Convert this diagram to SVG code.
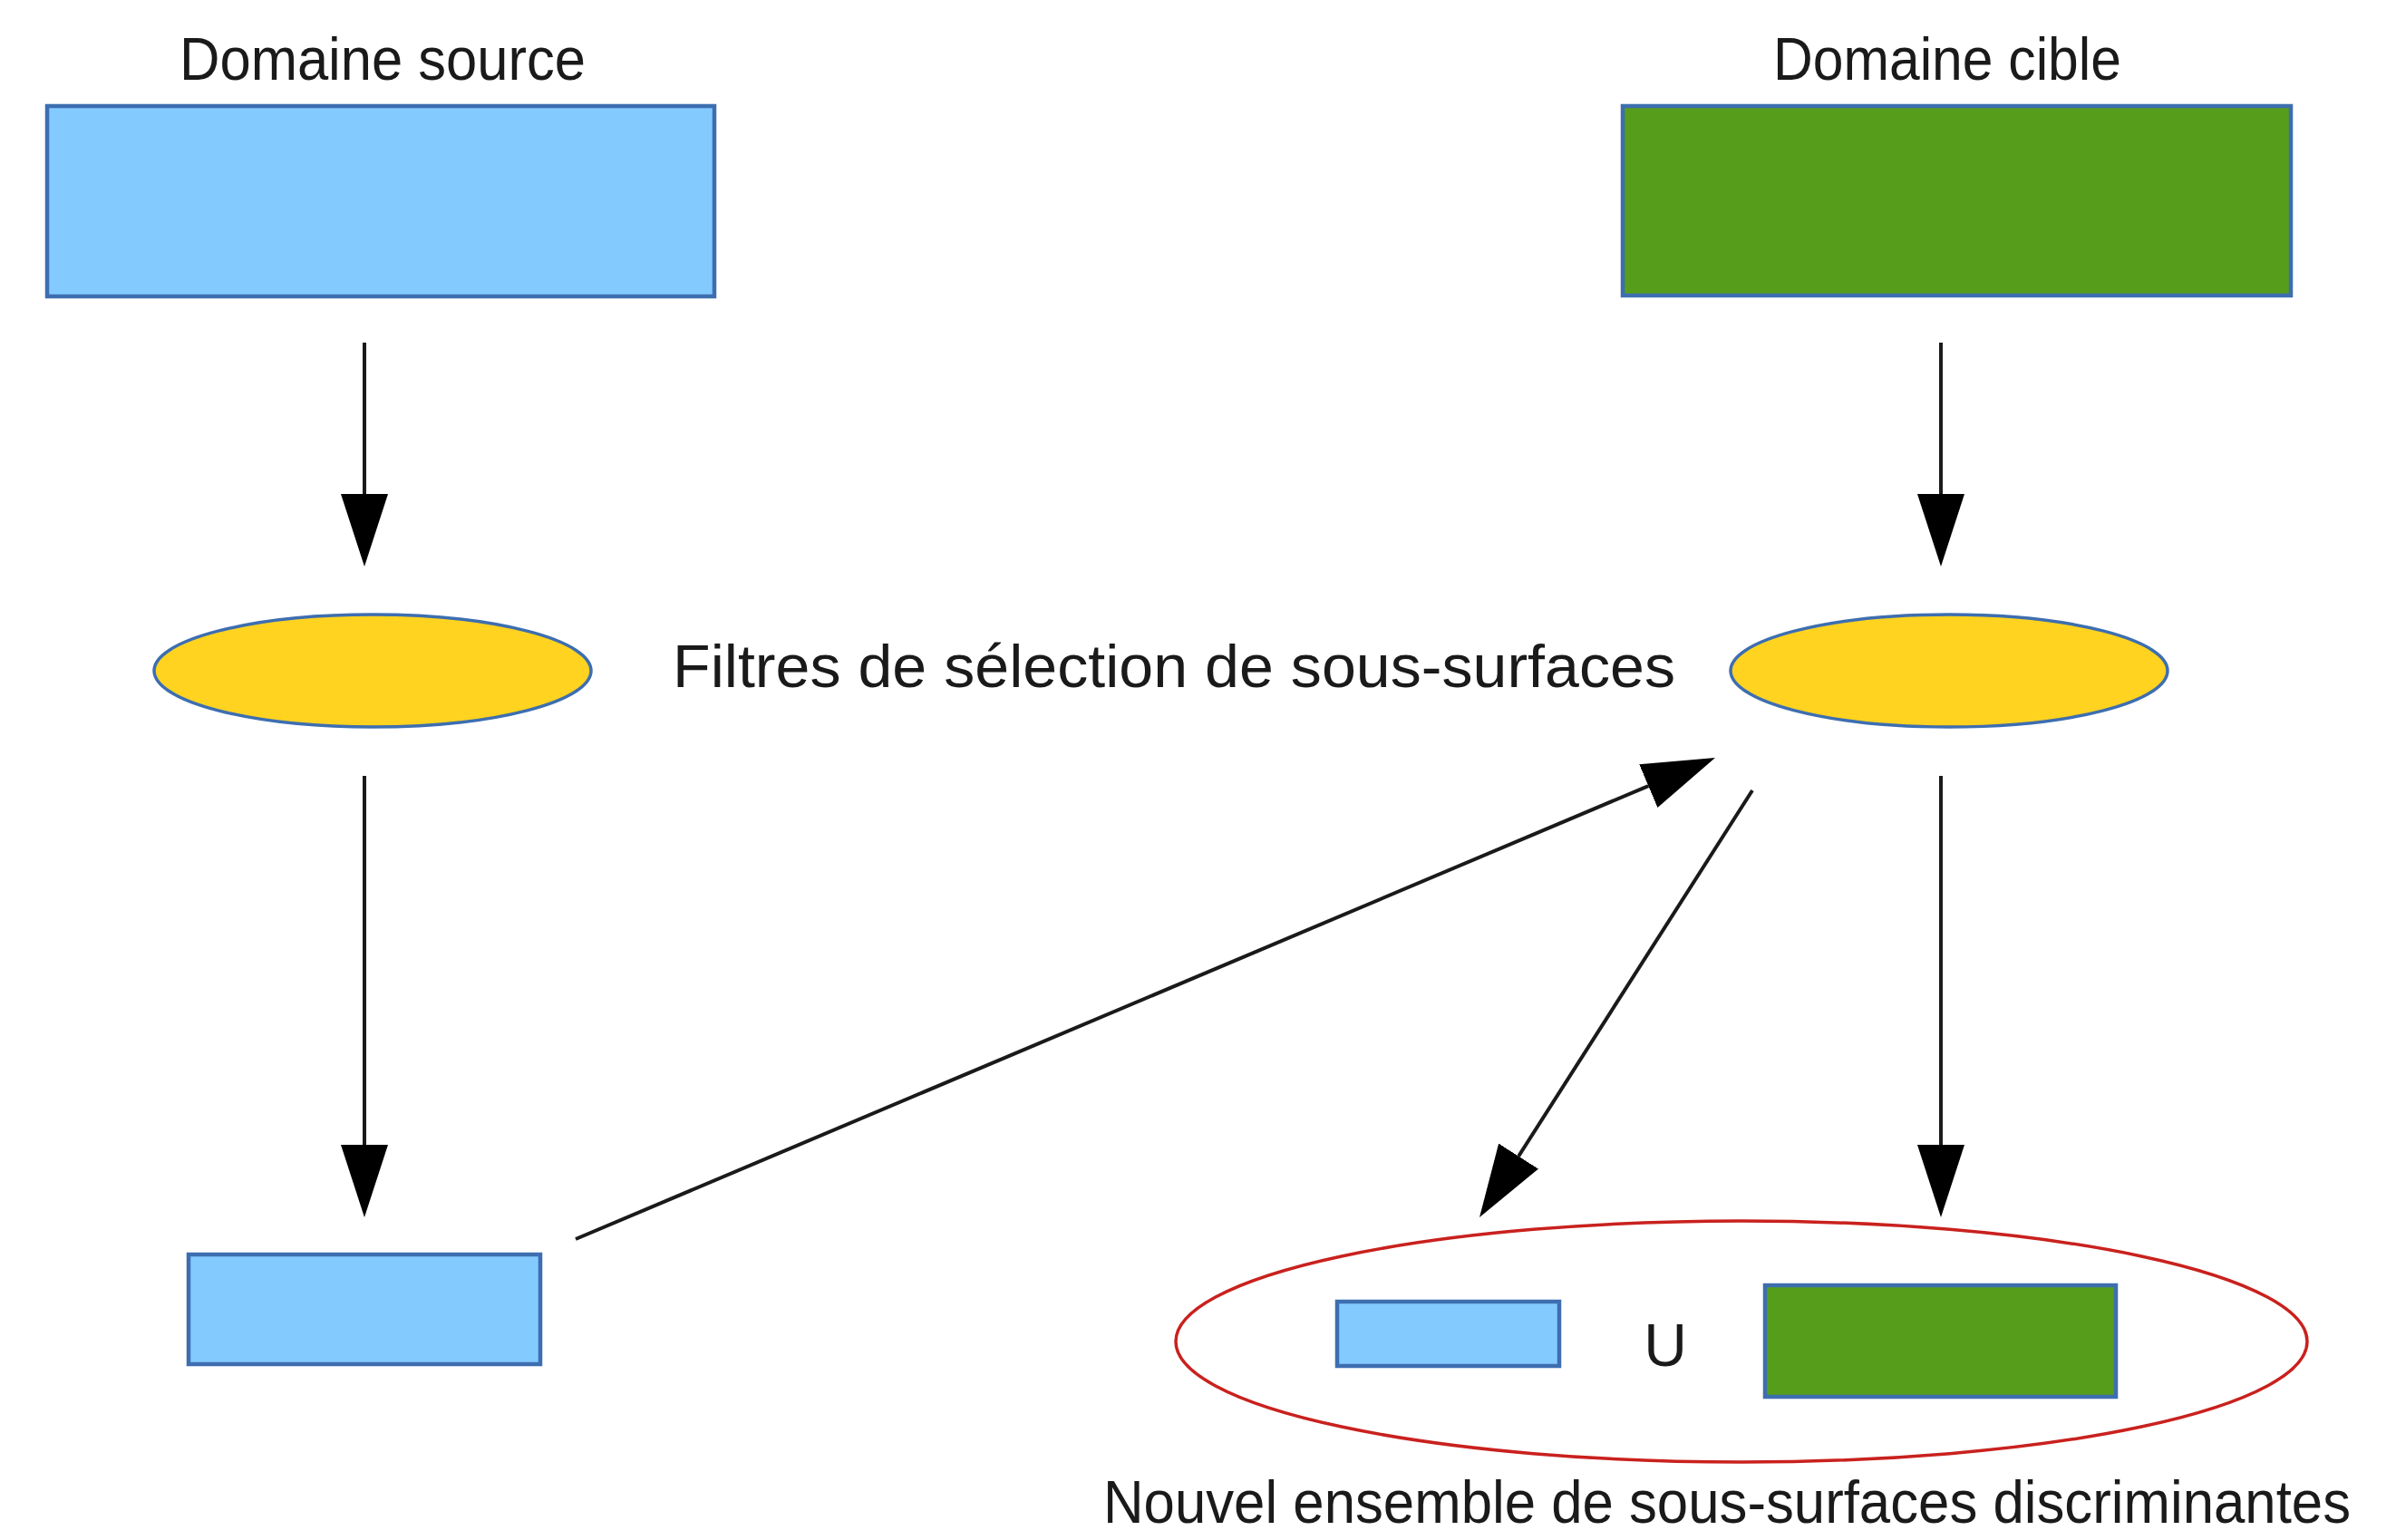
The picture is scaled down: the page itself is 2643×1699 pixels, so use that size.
<svg xmlns="http://www.w3.org/2000/svg" width="2643" height="1699" viewBox="0 0 2643 1699">
<style>
  .lbl { font-family: "Liberation Sans", Arial, sans-serif; font-size: 66px; fill: #1a1a1a; }
  .blue { fill: #83caff; stroke: #3d6eb0; stroke-width: 4.5; }
  .green { fill: #579d1c; stroke: #3d6eb0; stroke-width: 4.5; }
  .filter { fill: #ffd320; stroke: #3d6eb0; stroke-width: 3.5; }
  .set { fill: none; stroke: #c9211e; stroke-width: 3.5; }
  .conn { stroke: #1a1a1a; stroke-width: 4; fill: none; marker-end: url(#arrow); }
</style>
<defs>
  <marker id="arrow" markerUnits="userSpaceOnUse" viewBox="0 -27 82 54" markerWidth="82" markerHeight="54" refX="0" refY="0" orient="auto">
    <path d="M0,-26 L80,0 L0,26 Z" fill="#000"/>
  </marker>
</defs>
<rect width="2643" height="1699" fill="#ffffff"/>

<g id="source-domain">
  <text class="lbl" x="198" y="88" textLength="448" lengthAdjust="spacingAndGlyphs">Domaine source</text>
  <rect class="blue" x="52" y="117" width="736" height="210"/>
</g>
<g id="target-domain">
  <text class="lbl" x="1956" y="88" textLength="384" lengthAdjust="spacingAndGlyphs">Domaine cible</text>
  <rect class="green" x="1790" y="117" width="737" height="209"/>
</g>
<g id="filter-left">
  <ellipse class="filter" cx="411" cy="740" rx="241" ry="62"/>
</g>
<g id="filter-label">
  <text class="lbl" x="742" y="758" textLength="1106" lengthAdjust="spacingAndGlyphs">Filtres de sélection de sous-surfaces</text>
</g>
<g id="filter-right">
  <ellipse class="filter" cx="2150" cy="740" rx="241" ry="62"/>
</g>
<g id="source-subset">
  <rect class="blue" x="208" y="1384" width="388" height="121"/>
</g>
<g id="new-set">
  <ellipse class="set" cx="1921" cy="1480" rx="624" ry="133"/>
  <rect class="blue" x="1475" y="1436" width="245" height="71"/>
  <text class="lbl" x="1837" y="1507" text-anchor="middle">U</text>
  <rect class="green" x="1947" y="1418" width="387" height="123"/>
  <text class="lbl" x="1217" y="1680" font-size="63" textLength="1376" lengthAdjust="spacingAndGlyphs">Nouvel ensemble de sous-surfaces discriminantes</text>
</g>

<g id="connectors">
  <line class="conn" x1="402" y1="378" x2="402" y2="545"/>
  <line class="conn" x1="402" y1="856" x2="402" y2="1263"/>
  <line class="conn" x1="2141" y1="378" x2="2141" y2="545"/>
  <line class="conn" x1="2141" y1="856" x2="2141" y2="1263"/>
  <line class="conn" x1="635" y1="1367" x2="1818.3" y2="867.1"/>
  <line class="conn" x1="1933" y1="872" x2="1675.1" y2="1275.6"/>
</g>
</svg>
